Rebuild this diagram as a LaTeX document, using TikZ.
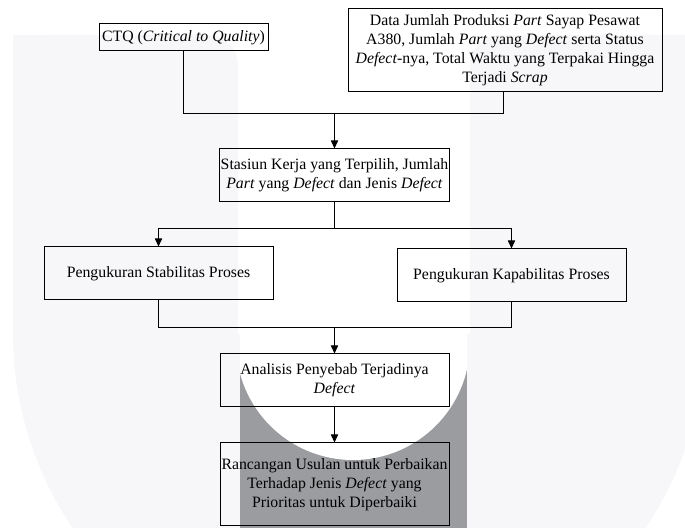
\documentclass[tikz,border=0pt]{standalone}
\usepackage{fontspec}
\setmainfont{Liberation Serif}
\usetikzlibrary{arrows.meta}
\definecolor{wmlight}{RGB}{247,247,249}
\definecolor{wmgrey}{RGB}{155,156,160}

\begin{document}
\begin{tikzpicture}[x=0.5pt,y=-0.5pt,line width=.5pt,
  font=\fontsize{7.9}{9.5}\selectfont,
  box/.style={draw,align=center,inner sep=.5pt,minimum width=114.5pt,minimum height=26.5pt},
  arr/.style={-{Triangle[length=4pt,width=3.6pt]}}]
\useasboundingbox (0,0) rectangle (685,528);
% watermark
\fill[wmlight,rounded corners=15pt] (13,35) rectangle (238,340);
\fill[wmlight] (13,35) rectangle (150,340);
\fill[wmlight] (13,120) rectangle (238,340);
\fill[wmlight,rounded corners=15pt] (470,35) rectangle (720,340);
\fill[wmlight] (560,35) rectangle (720,340);
\fill[wmlight] (470,120) rectangle (720,340);
\fill[wmlight] plot[domain=0:180,samples=90] ({359+346*cos(\x)},{334+346*sin(\x)}) -- cycle;
\fill[wmgrey] (240,340) rectangle (467,528);
\begin{scope}
\clip (240,0) rectangle (467,528);
\fill[white] (353,343) circle[radius=117];
\end{scope}

\node[box,minimum width=84.5pt,minimum height=13.5pt] (ctq) at (183.5,37.5) {CTQ (\textit{Critical to Quality})};
\node[box,minimum width=157pt,minimum height=41.5pt] (data) at (505,50.5) {Data Jumlah Produksi \textit{Part} Sayap Pesawat\\A380, Jumlah \textit{Part} yang \textit{Defect} serta Status\\\textit{Defect}-nya, Total Waktu yang Terpakai Hingga\\Terjadi \textit{Scrap}};
\node[box] (stasiun) at (334.5,175.5) {Stasiun Kerja yang Terpilih, Jumlah\\\textit{Part} yang \textit{Defect} dan Jenis \textit{Defect}};
\node[box] (stabil) at (158.5,273.5) {Pengukuran Stabilitas Proses};
\node[box] (kapabil) at (511.5,275.5) {Pengukuran Kapabilitas Proses};
\node[box] (analisis) at (334.5,380.5) {Analisis Penyebab Terjadinya\\\textit{Defect}};
\node[box,minimum height=41.5pt] (rancangan) at (334.5,484.5) {Rancangan Usulan untuk Perbaikan\\Terhadap Jenis \textit{Defect} yang\\Prioritas untuk Diperbaiki};

\coordinate (j1) at (334.5,114);
\coordinate (j2) at (334.5,229);
\coordinate (j3) at (334.5,328);

\draw (ctq.south) |- (j1);
\draw ([xshift=-1pt]data.south) |- (j1);
\draw[arr] (j1) -- (stasiun.north);
\draw (stasiun.south) -- (j2);
\draw[arr] (j2) -| (stabil.north);
\draw[arr] (j2) -| (kapabil.north);
\draw (stabil.south) |- (j3);
\draw (kapabil.south) |- (j3);
\draw[arr] (j3) -- (analisis.north);
\draw[arr] (analisis.south) -- (rancangan.north);
\end{tikzpicture}
\end{document}
